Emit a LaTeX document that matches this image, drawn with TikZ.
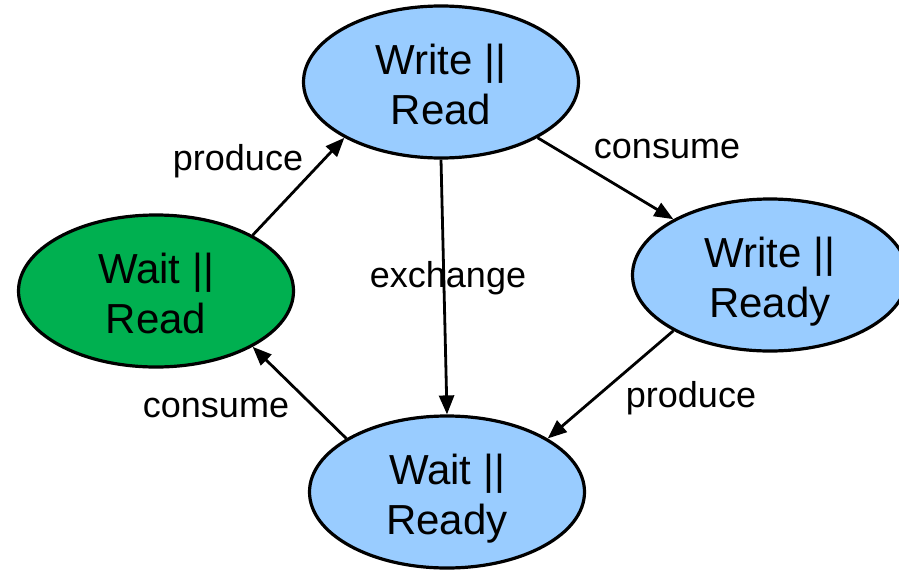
\documentclass[tikz,border=0pt]{standalone}
\usepackage{fontspec}
\setmainfont{Liberation Sans}
\usetikzlibrary{shapes.geometric,arrows.meta}
\definecolor{stateblue}{RGB}{153,204,255}
\definecolor{stategreen}{RGB}{0,176,80}
% two centred lines, set a little below the geometric centre of the state
\newcommand{\statetext}[1]{\raisebox{-7pt}[\height][\depth]{%
  \begin{tabular}{@{}c@{}}#1\end{tabular}}}
\tikzset{
  state/.style={ellipse, draw=black, line width=3.2pt, fill=stateblue,
    minimum width=275pt, minimum height=152pt, inner sep=0pt,
    font=\fontsize{42}{50}\selectfont},
  transition/.style={-{Triangle[length=19pt,width=15pt]}, line width=2.8pt},
  lbl/.style={anchor=base, inner sep=0pt, font=\fontsize{36}{43}\selectfont}
}
\begin{document}
\begin{tikzpicture}[x=1pt,y=-1pt]
  \useasboundingbox (0,0) rectangle (899,570);
  \clip (0,0) rectangle (899,570);

  % states
  \node[state] (wrrd) at (441,82) {\statetext{Write ||\\Read}};
  \node[state] (wrry) at (770,275) {\statetext{Write ||\\Ready}};
  \node[state, fill=stategreen] (wtrd) at (156,291) {\statetext{Wait ||\\Read}};
  \node[state] (wtry) at (447,492) {\statetext{Wait ||\\Ready}};

  % transitions
  \draw[transition] (wtrd.30) -- (wrrd.210);
  \draw[transition] (wrrd.330) -- (wrry.150);
  \draw[transition] (wrrd.270) -- (wtry.90);
  \draw[transition] (wrry.210) -- (wtry.28);
  \draw[transition] (wtry.152) -- (wtrd.330);

  % transition labels
  \node[lbl] (l1) at (238,170) {produce};
  \node[lbl] (l2) at (667,158) {consume};
  \node[lbl] (l3) at (448,287) {exchange};
  \node[lbl] (l4) at (216,417) {consume};
  \node[lbl] (l5) at (691,407) {produce};
\end{tikzpicture}
\end{document}
